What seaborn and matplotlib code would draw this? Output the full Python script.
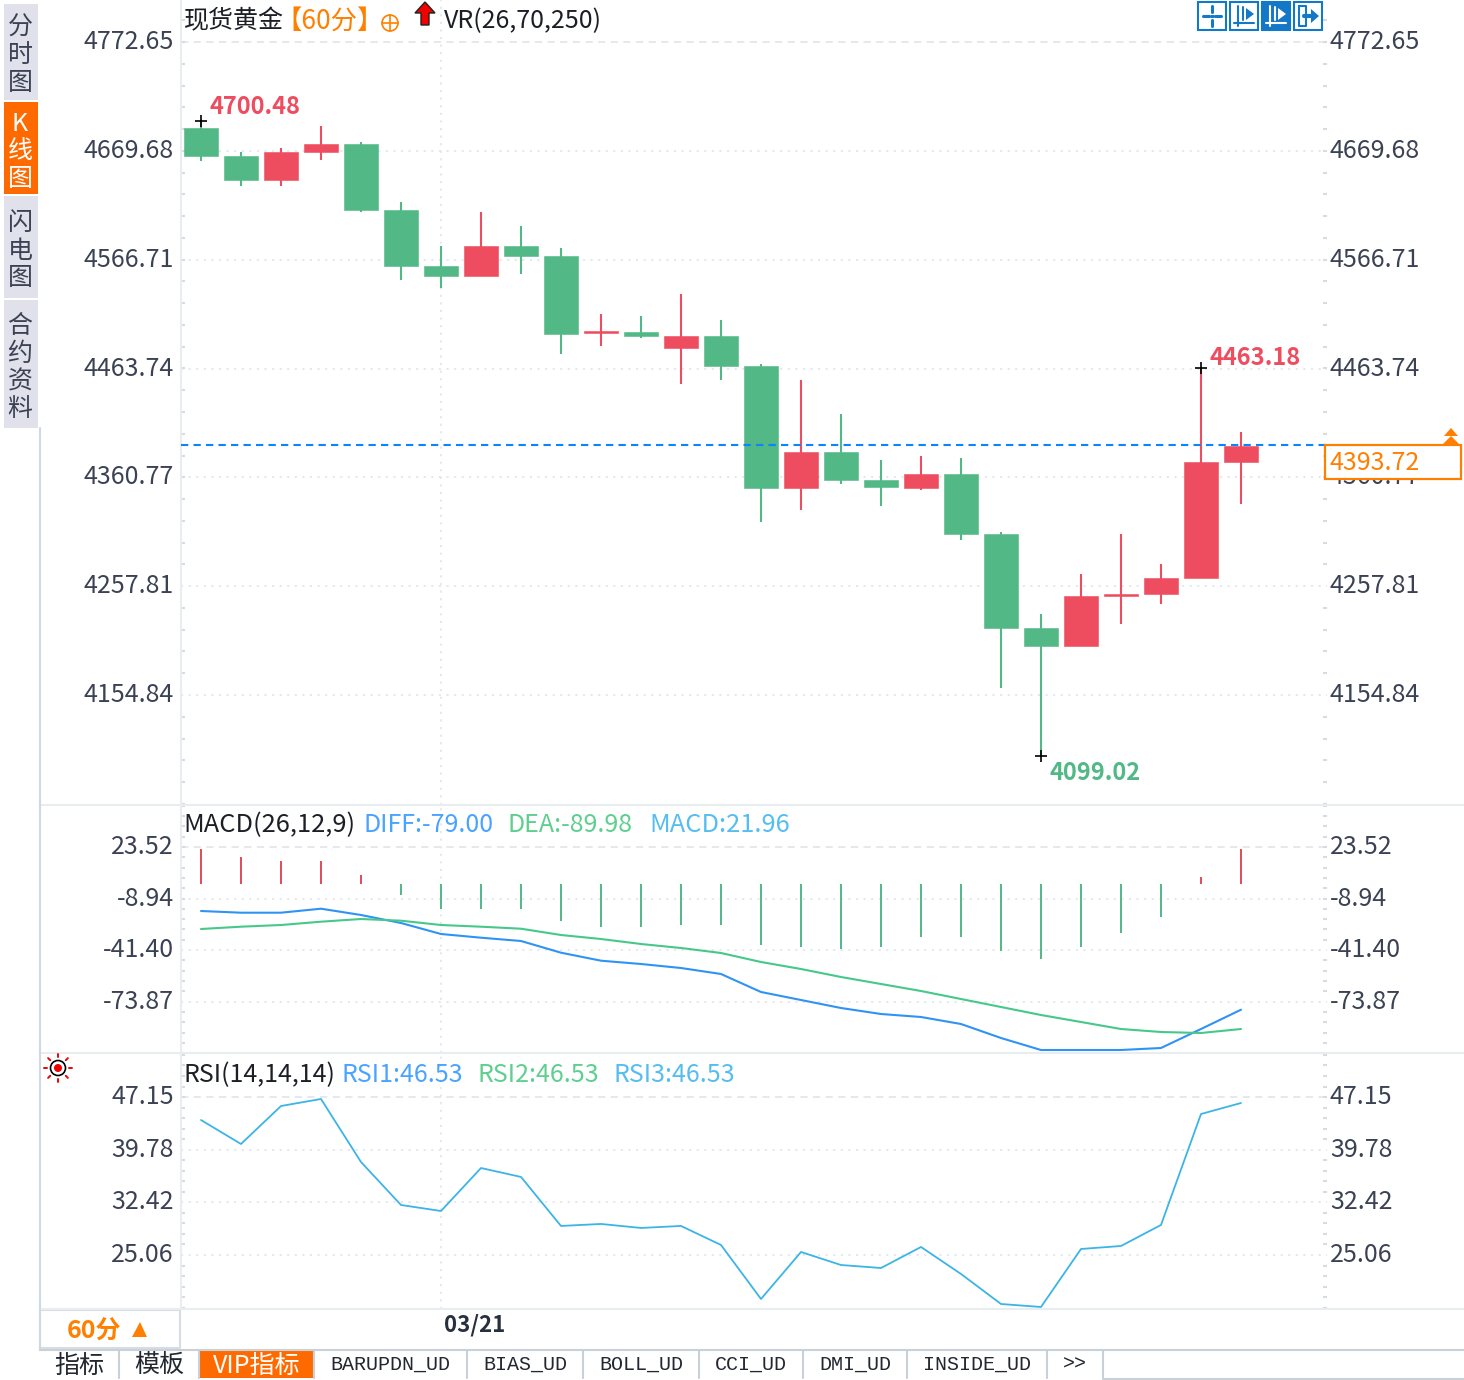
"""Spot gold 60-minute K-line terminal view with MACD and RSI panes."""

import numpy as np
import matplotlib
matplotlib.use("Agg")
import matplotlib.pyplot as plt
from matplotlib.patches import Rectangle, Circle, Polygon
from matplotlib.ticker import AutoMinorLocator
from matplotlib.transforms import ScaledTranslation
import seaborn as sns

# candles, in price units
opens = [4691.29, 4664.79, 4642.09, 4668.58, 4676.15, 4613.71, 4560.72, 4551.26, 4579.65,
         4570.18, 4497.33, 4498.28, 4483.14, 4494.50, 4466.11, 4350.69, 4384.75, 4358.26,
         4350.69, 4363.93, 4307.17, 4218.24, 4201.21, 4248.51, 4250.40, 4265.54, 4375.29]
closes = [4664.79, 4642.09, 4668.58, 4676.15, 4613.71, 4560.72, 4551.26, 4579.65, 4570.18,
          4496.39, 4499.23, 4494.50, 4494.50, 4466.11, 4350.69, 4384.75, 4358.26, 4351.64,
          4363.93, 4307.17, 4218.24, 4201.21, 4248.51, 4250.40, 4265.54, 4375.29, 4390.43]
highs = [4697.91, 4668.58, 4672.36, 4693.18, 4678.04, 4621.27, 4579.65, 4611.81, 4598.57,
         4577.75, 4515.31, 4513.42, 4534.23, 4509.63, 4468.01, 4452.87, 4420.70, 4377.18,
         4380.96, 4379.07, 4309.06, 4231.48, 4269.32, 4307.17, 4278.79, 4464.22, 4403.67]
lows = [4660.06, 4636.41, 4636.41, 4661.01, 4611.81, 4547.48, 4539.91, 4551.26, 4553.15,
        4477.47, 4485.04, 4492.60, 4449.08, 4452.87, 4318.52, 4329.88, 4354.47, 4333.66,
        4348.80, 4301.49, 4161.47, 4097.13, 4201.21, 4222.02, 4240.94, 4265.54, 4335.55]
last_line = 4391.3

# indicators
macd_hist = [21.96, 17.0, 14.5, 14.5, 5.7, -6.9, -15.75, -15.75, -15.75, -23.3, -27.1, -27.1,
             -25.8, -25.8, -38.4, -39.7, -41.0, -39.7, -33.4, -33.4, -42.2, -47.25, -39.7,
             -30.9, -20.8, 4.4, 21.96]
diff_line = [-16.8, -17.87, -17.87, -15.35, -19.32, -24.36, -31.29, -33.62, -35.70, -43.07,
             -48.11, -50.19, -52.71, -56.49, -67.83, -72.87, -77.91, -81.69, -83.58, -87.99,
             -96.81, -104.37, -104.37, -104.37, -103.11, -91.14, -79.0]
dea_line = [-28.14, -26.69, -25.62, -23.54, -21.84, -22.91, -25.62, -26.69, -27.95, -31.92,
            -34.44, -37.59, -40.11, -43.26, -48.93, -53.34, -58.38, -62.79, -67.20, -72.24,
            -77.28, -82.32, -86.73, -91.14, -93.03, -93.66, -91.14]
rsi_line = [43.93, 40.58, 45.89, 46.87, 38.06, 32.05, 31.21, 37.22, 35.97, 29.12, 29.40, 28.84,
            29.12, 26.46, 18.91, 25.48, 23.66, 23.24, 26.18, 22.41, 18.21, 17.79, 25.90, 26.32,
            29.26, 44.77, 46.31]

# tick values and labels
price_ticks = [4772.65, 4669.68, 4566.71, 4463.74, 4360.77, 4257.81, 4154.84]
macd_ticks = [23.52, -8.94, -41.40, -73.87]
rsi_ticks = [47.15, 39.78, 32.42, 25.06]
date_tick = 6
date_label = "03/21"

side_tabs = ["分时图", "K线图", "闪电图", "合约资料"]
bottom_tabs = ["指标", "模板", "VIP指标", "BARUPDN_UD", "BIAS_UD", "BOLL_UD", "CCI_UD",
               "DMI_UD", "INSIDE_UD", ">>"]

GREEN = "#52b886"
RED = "#ee4d5f"
ORANGE = "#ff8000"
TAB_ORANGE = "#ff6a00"
INK = "#3b4254"
BLUE = "#1478c8"
GRID = "#e3e6ea"
W, H = 1464, 1380

sns.set_theme(style="white")
plt.rcParams["font.family"] = ["Noto Sans CJK SC", "DejaVu Sans"]
plt.rcParams["axes.unicode_minus"] = False

fig = plt.figure(figsize=(W / 100, H / 100), dpi=100, facecolor="white")


def px_shift(dx, dy=0):
    return ScaledTranslation(dx / 100, dy / 100, fig.dpi_scale_trans)


def pane(y0, y1, ylim, ticks):
    ax = fig.add_axes([181 / W, 1 - y1 / H, (1327 - 181) / W, (y1 - y0) / H])
    ax.set_xlim(-0.5, 28.15)
    ax.set_ylim(*ylim)
    ax.set_yticks(ticks, labels=[f"{t:.2f}" for t in ticks])
    ax.yaxis.set_minor_locator(AutoMinorLocator(5))
    ax.tick_params(axis="y", which="major", left=False, right=False, labelleft=True,
                   labelright=True, labelsize=18, labelcolor=INK, pad=5, length=0)
    ax.tick_params(axis="y", which="minor", left=True, right=True, direction="in",
                   length=3, width=1.5, color="#d8dce2")
    ax.set_xticks([date_tick], labels=[""])
    ax.tick_params(axis="x", bottom=False, labelbottom=False, length=0)
    ax.grid(True, axis="both", color=GRID, linestyle=(0, (1.2, 3)), linewidth=1.3)
    ax.get_ygridlines()[0].set_linestyle((0, (4, 3)))
    ax.set_axisbelow(True)
    for side in ("top", "right", "bottom"):
        ax.spines[side].set_visible(False)
    ax.spines["left"].set_color("#e8edf0")
    ax.spines["left"].set_linewidth(1.5)
    # labels sit a little above their gridlines, right ones close to the plot
    for tick in ax.yaxis.get_major_ticks():
        tick.label1.set_transform(tick.label1.get_transform() + px_shift(0, 3))
        tick.label2.set_transform(tick.label2.get_transform() + px_shift(-4, 3))
    return ax


x = np.arange(len(opens))
opens_a, closes_a = np.array(opens), np.array(closes)
is_up = closes_a > opens_a

# price pane
ax_k = pane(0, 805, (4050.76, 4812.39), price_ticks)
for mask, colour in ((is_up, RED), (~is_up, GREEN)):
    ax_k.vlines(x[mask], np.array(lows)[mask], np.array(highs)[mask], color=colour, linewidth=1.5)
    sns.barplot(x=x[mask], y=np.abs(closes_a - opens_a)[mask],
                bottom=np.minimum(opens_a, closes_a)[mask], native_scale=True, width=0.83,
                color=colour, saturation=1, errorbar=None, edgecolor=colour, linewidth=0.4, ax=ax_k)
ax_k.set_xlim(-0.5, 28.15)
ax_k.set_ylim(4050.76, 4812.39)
ax_k.set_xlabel("")
ax_k.set_ylabel("")
ax_k.set_xticks([date_tick], labels=[""])
ax_k.tick_params(axis="x", bottom=False, labelbottom=False)
ax_k.axhline(last_line, color="#0a84ff", linewidth=1.5, linestyle=(0, (3.5, 2.5)), zorder=5)
ax_k.plot([x[0], x[25]], [highs[0], highs[25]], "+", color="black", ms=9, mew=1.2, zorder=6)
ax_k.plot([x[21]], [lows[21]], "+", color="black", ms=9, mew=1.2, zorder=6)

# MACD pane
ax_m = pane(805, 1053, (-106.26, 49.98), macd_ticks)
hist = np.array(macd_hist)
ax_m.vlines(x[hist > 0], 0, hist[hist > 0], color="#e04b5a", linewidth=1.4)
ax_m.vlines(x[hist <= 0], 0, hist[hist <= 0], color=GREEN, linewidth=1.4)
sns.lineplot(x=x, y=diff_line, color="#2f93f5", linewidth=1.5, ax=ax_m)
sns.lineplot(x=x, y=dea_line, color="#46c88a", linewidth=1.5, ax=ax_m)

# RSI pane
ax_r = pane(1053, 1309, (17.51, 53.30), rsi_ticks)
sns.lineplot(x=x, y=rsi_line, color="#3cb4e6", linewidth=1.3, ax=ax_r)
ax_r.set_xticks([date_tick], labels=[date_label])
ax_r.tick_params(axis="x", bottom=False, labelbottom=True, labelsize=16, labelcolor="#27303f", pad=3)
for lab in ax_r.get_xticklabels():
    lab.set_horizontalalignment("left")
    lab.set_fontweight("bold")
    lab.set_transform(lab.get_transform() + px_shift(3))

for ax in (ax_m, ax_r):
    ax.set_xlim(-0.5, 28.15)

# chrome drawn in pixel coordinates on top of the panes
ov = fig.add_axes([0, 0, 1, 1], facecolor="none")
ov.set_xlim(0, W)
ov.set_ylim(H, 0)
ov.axis("off")


def label(px, py, s, color=INK, size=18, ha="left", **kw):
    ov.text(px, py + 2, s, color=color, fontsize=size, ha=ha, va="center", **kw)


# separators and frame
for sep_y in (805, 1053, 1309):
    ov.plot([40, W], [sep_y, sep_y], color="#e8edf0", lw=1.5)
ov.plot([39.5, 39.5], [428, 1350], color="#cfd8e3", lw=1.5)

# left tabs
tab_edges = [(4, 100), (102, 194), (196, 298), (300, 428)]
for name, (top, bot) in zip(side_tabs, tab_edges):
    active = name.startswith("K")
    ov.add_patch(Rectangle((4, top), 34, bot - top, color=TAB_ORANGE if active else "#e0e1ea", lw=0))
    mid = (top + bot) / 2 + 1.5
    for n, ch in enumerate(name):
        label(20, mid + (n - (len(name) - 1) / 2) * 27.5, ch,
              color="white" if active else INK, ha="center")

# header line
label(184, 19, "现货黄金", color="#1c1f26")
label(275, 19, "【60分】", color=ORANGE, size=19)
ov.add_patch(Circle((390, 23), 8, fill=False, ec=ORANGE, lw=1.2))
ov.plot([382, 398], [23, 23], color=ORANGE, lw=1.2)
ov.plot([390, 390], [15, 31], color=ORANGE, lw=1.2)
arrow = [(425, 2), (435, 13), (429, 13), (429, 25), (421, 25), (421, 13), (415, 13)]
ov.add_patch(Polygon(arrow, closed=True, fc="#f00000", ec="#222222", lw=1))
label(444, 19, "VR(26,70,250)", color="#1c1f26")

# toolbar icons
for n, left in enumerate((1198, 1230, 1262, 1294)):
    filled = n == 2
    ov.add_patch(Rectangle((left, 2), 28, 28, fc=BLUE if filled else "white", ec=BLUE, lw=1.5))
    c = "white" if filled else BLUE
    if n == 0:
        ov.plot([left + 5, left + 11], [16, 16], color=c, lw=2.2)
        ov.plot([left + 17, left + 23], [16, 16], color=c, lw=2.2)
        ov.plot([left + 14, left + 14], [6, 12], color=c, lw=2.2)
        ov.plot([left + 14, left + 14], [20, 26], color=c, lw=2.2)
        ov.plot([left + 13, left + 15], [16, 16], color=c, lw=2.2)
    elif n in (1, 2):
        ov.plot([left + 8, left + 8], [6, 26], color=c, lw=1.5)
        ov.plot([left + 4, left + 24], [23, 23], color=c, lw=1.5)
        ov.plot([left + 13, left + 13], [7, 20], color=c, lw=1.5)
        ov.add_patch(Polygon([(left + 16, 8), (left + 24, 14), (left + 16, 20)], fc=c, lw=0))
    else:
        ov.plot([left + 5, left + 12, left + 12, left + 5, left + 5], [6, 6, 26, 26, 6], color=c, lw=1.5)
        ov.plot([left + 10, left + 18], [16, 16], color=c, lw=3)
        ov.add_patch(Polygon([(left + 17, 9), (left + 25, 16), (left + 17, 23)], fc=c, lw=0))

# extreme labels
label(210, 105, "4700.48", color=RED, size=17, weight="bold")
label(1210, 356, "4463.18", color=RED, size=17, weight="bold")
label(1050, 771, "4099.02", color=GREEN, size=17, weight="bold")

# last price box
ov.add_patch(Rectangle((1325, 445), 136, 34, fc="white", ec=ORANGE, lw=1.6))
label(1329, 461, "4393.72", color=ORANGE)
ov.add_patch(Polygon([(1451, 428), (1458, 436), (1444, 436)], fc=ORANGE, lw=0))
ov.add_patch(Polygon([(1451, 436), (1460, 445), (1442, 445)], fc=ORANGE, lw=0))

# pane headers
label(183, 823, "MACD(26,12,9)", color="#1c1f26", size=18.3)
label(363, 823, "DIFF:-79.00", color="#4aa3ff")
label(507, 823, "DEA:-89.98", color="#5fcf8f")
label(649, 823, "MACD:21.96", color="#55bdf0", size=18.3)
label(183, 1073, "RSI(14,14,14)", color="#1c1f26")
label(341, 1073, "RSI1:46.53", color="#4aa3ff")
label(477, 1073, "RSI2:46.53", color="#5fcf8f")
label(613, 1073, "RSI3:46.53", color="#55bdf0")

# sun icon
ov.add_patch(Circle((58, 1068), 7.5, fill=False, ec="black", lw=1.2))
ov.add_patch(Circle((58, 1068), 4, fc="#f00000", lw=0))
for ang in np.deg2rad(np.arange(0, 360, 45)):
    ov.plot([58 + 11 * np.cos(ang), 58 + 14 * np.cos(ang)],
            [1068 + 11 * np.sin(ang), 1068 + 14 * np.sin(ang)], color="#f00000", lw=1.4)

# period box
ov.add_patch(Rectangle((40, 1310), 140, 38, fc="white", ec="#d8dde3", lw=1.5))
label(67, 1330, "60分", color=ORANGE, weight="bold")
ov.add_patch(Polygon([(140, 1322), (147, 1337), (132, 1337)], fc=ORANGE, lw=0))

# bottom tabs
tab_x = [40, 119, 199, 314, 467, 583, 699, 803, 907, 1047, 1103]
ov.plot([40, W], [1349.5, 1349.5], color="#c8d0d8", lw=1.5)
ov.plot([1103, W], [1378.5, 1378.5], color="#c8d0d8", lw=1.5)
for n, name in enumerate(bottom_tabs):
    left, right = tab_x[n], tab_x[n + 1]
    active = name == "VIP指标"
    if active:
        ov.add_patch(Rectangle((left + 1, 1349), right - left - 1, 29, color=TAB_ORANGE, lw=0))
    ov.plot([right, right], [1350, 1378], color="#c8d0d8", lw=1.5)
    if n < 3:
        fam = ["Noto Sans CJK SC", "DejaVu Sans"]
        size = 18
        text_y = 1364
    else:
        fam = ["Liberation Mono", "DejaVu Sans Mono"]
        size = 14.4
        text_y = 1362
    label((left + right) / 2, text_y, name, color="white" if active else "#222730", size=size, ha="center", family=fam)

fig.savefig("out.png", dpi=100)
plt.close(fig)
